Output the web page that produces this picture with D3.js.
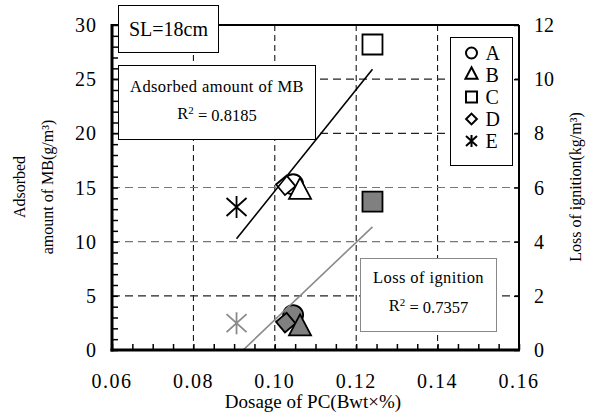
<!DOCTYPE html>
<html>
<head>
<meta charset="utf-8">
<script src="https://cdn.jsdelivr.net/npm/d3@7"></script>
<style>
  html, body { margin: 0; padding: 0; background: #fff; }
  svg { display: block; }
  text { font-family: "Liberation Serif", "Times New Roman", serif; fill: #000; }
</style>
</head>
<body>
<svg id="chart" width="592" height="414"></svg>
<script>
// datos
const groups = ['A', 'B', 'C', 'D', 'E'];
const dosage = [0.1045, 0.1062, 0.1240, 0.1027, 0.0906];       // PC (Bwt×%)
const adsorbedMB = [15.3, 14.6, 28.2, 15.2, 13.2];             // g/m³, eje izq
const lossIgnition = [1.29, 0.80, 5.48, 1.01, 0.99];           // kg/m³, eje der
const xTicks = [0.06, 0.08, 0.10, 0.12, 0.14, 0.16];
const yLeftTicks = [0, 5, 10, 15, 20, 25, 30];
const yRightTicks = [0, 2, 4, 6, 8, 10, 12];
const r2Adsorbed = '0.8185';
const r2Loss = '0.7357';

const svg = d3.select('#chart');
const M = { l: 112, r: 519, t: 25, b: 350 };
const x = d3.scaleLinear().domain([0.06, 0.16]).range([M.l, M.r]);
const yL = d3.scaleLinear().domain([0, 30]).range([M.b, M.t]);
const yR = d3.scaleLinear().domain([0, 12]).range([M.b, M.t]);

// grilla
const grid = svg.append('g');
grid.selectAll('line.v').data(xTicks.slice(1, -1)).join('line')
  .attr('x1', d => x(d)).attr('x2', d => x(d)).attr('y1', M.t).attr('y2', M.b)
  .attr('stroke', '#000').attr('stroke-width', 1).attr('stroke-dasharray', '6,4');
const hCol = { 5: '#222', 10: '#777', 15: '#777', 20: '#222', 25: '#222' };
grid.selectAll('line.h').data(yLeftTicks.slice(1, -1)).join('line')
  .attr('x1', M.l).attr('x2', M.r).attr('y1', d => yL(d)).attr('y2', d => yL(d))
  .attr('stroke', d => hCol[d]).attr('stroke-width', 1.2).attr('stroke-dasharray', '8,5');

// cajas de texto (fondo blanco, tapan la grilla)
function box(x0, y0, w, h, stroke) {
  svg.append('rect').attr('x', x0).attr('y', y0).attr('width', w).attr('height', h)
    .attr('fill', '#fff').attr('stroke', stroke).attr('stroke-width', 1);
}

// regresión lineal
function fit(xs, ys) {
  const mx = d3.mean(xs), my = d3.mean(ys);
  const sxy = d3.sum(xs, (v, i) => (v - mx) * (ys[i] - my));
  const sxx = d3.sum(xs, v => (v - mx) ** 2);
  const b = sxy / sxx;
  return v => my + b * (v - mx);
}
const [xMin, xMax] = d3.extent(dosage);

svg.append('clipPath').attr('id', 'clip').append('rect')
  .attr('x', M.l).attr('y', M.t).attr('width', M.r - M.l).attr('height', M.b - M.t);

// marcadores
function symPath(k, s) {
  if (k === 'A') return d3.symbol(d3.symbolCircle, Math.PI * s * s)();
  if (k === 'B') { const h = s * 2.1, w = s * 1.1; return `M0,${-h * 2 / 3}L${w},${h / 3}L${-w},${h / 3}Z`; }
  if (k === 'C') return `M${-s},${-s}H${s}V${s}H${-s}Z`;
  if (k === 'D') { const d = s * 0.98; return `M0,${-d}L${d},0L0,${d}L${-d},0Z`; }
  return `M0,${-s * 1.1}V${s * 1.1}M${-s},${-s * 0.9}L${s},${s * 0.9}M${-s},${s * 0.9}L${s},${-s * 0.9}`;
}
const order = [0, 3, 1, 2, 4];  // A, D, B, C, E

function drawSeries(vals, yScale, fill, stroke) {
  const g = svg.append('g');
  g.selectAll('path').data(order).join('path')
    .attr('transform', i => `translate(${x(dosage[i])},${yScale(vals[i])})`
      + (groups[i] === 'D' ? ' rotate(5)' : ''))
    .attr('d', i => symPath(groups[i], 10))
    .attr('fill', i => groups[i] === 'E' ? 'none' : fill)
    .attr('stroke', i => groups[i] === 'E' ? stroke : '#000')
    .attr('stroke-width', i => groups[i] === 'E' ? 1.8 : 1.8)
    .attr('stroke-linejoin', 'miter');
}
drawSeries(lossIgnition, yR, '#808080', '#8a8a8a');
drawSeries(adsorbedMB, yL, '#fff', '#000');

// líneas de tendencia
const fA = fit(dosage, adsorbedMB), fL = fit(dosage, lossIgnition);
svg.append('line').attr('clip-path', 'url(#clip)')
  .attr('x1', x(xMin)).attr('y1', yL(fA(xMin))).attr('x2', x(xMax)).attr('y2', yL(fA(xMax)))
  .attr('stroke', '#000').attr('stroke-width', 1.6);
svg.append('line').attr('clip-path', 'url(#clip)')
  .attr('x1', x(xMin)).attr('y1', yR(fL(xMin))).attr('x2', x(xMax)).attr('y2', yR(fL(xMax)))
  .attr('stroke', '#8a8a8a').attr('stroke-width', 1.6);

// marco y ejes
svg.append('line').attr('x1', M.l).attr('x2', M.r).attr('y1', M.t).attr('y2', M.t)
  .attr('stroke', '#000').attr('stroke-width', 2);
svg.append('line').attr('x1', M.r).attr('x2', M.r).attr('y1', M.t).attr('y2', M.b)
  .attr('stroke', '#000').attr('stroke-width', 2);

const axL = svg.append('g').attr('transform', `translate(${M.l},0)`)
  .call(d3.axisRight(yL).tickValues(d3.range(0, 31, 1)).tickSize(6).tickFormat(''));
const axB = svg.append('g').attr('transform', `translate(0,${M.b})`)
  .call(d3.axisTop(x).tickValues(d3.range(0, 21).map(i => 0.06 + i * 0.005)).tickSize(6).tickFormat(''));
const axR = svg.append('g').attr('transform', `translate(${M.r},0)`)
  .call(d3.axisLeft(yR).tickValues(yRightTicks).tickSize(5).tickFormat(''));
[axL, axB, axR].forEach(a => { a.select('.domain').remove(); a.selectAll('line').attr('stroke', '#000').attr('stroke-width', 1.5); });
svg.append('line').attr('x1', M.l).attr('x2', M.l).attr('y1', M.t - 1).attr('y2', M.b + 1.5)
  .attr('stroke', '#000').attr('stroke-width', 3);
svg.append('line').attr('x1', M.l - 1.5).attr('x2', M.r + 1).attr('y1', M.b).attr('y2', M.b)
  .attr('stroke', '#000').attr('stroke-width', 3);

// etiquetas de ejes
svg.append('g').selectAll('text').data(yLeftTicks).join('text')
  .attr('x', 97).attr('y', d => yL(d)).attr('dy', '0.35em').attr('text-anchor', 'end')
  .style('font-size', '20px').style('letter-spacing', '1px').text(d => d);
svg.append('g').selectAll('text').data(yRightTicks).join('text')
  .attr('x', 534).attr('y', d => yR(d)).attr('dy', '0.35em').attr('text-anchor', 'start')
  .style('font-size', '20px').text(d => d);
svg.append('g').selectAll('text').data(xTicks).join('text')
  .attr('x', d => x(d)).attr('y', 388).attr('text-anchor', 'middle')
  .style('font-size', '20px').style('letter-spacing', '1.5px').text(d => d.toFixed(2));
svg.append('text').attr('x', 313).attr('y', 408).attr('text-anchor', 'middle')
  .style('font-size', '19px').text('Dosage of PC(Bwt×%)');

const yt = svg.append('text').attr('transform', 'translate(19,187) rotate(-90)')
  .attr('text-anchor', 'middle').style('font-size', '16px');
yt.append('tspan').attr('x', 0).attr('dy', '0.35em').text('Adsorbed');
yt.append('tspan').attr('x', 0).attr('dy', '1.8em').text('amount of MB(g/m³)');
svg.append('text').attr('transform', 'translate(575,187) rotate(-90)')
  .attr('text-anchor', 'middle').attr('dy', '0.35em').style('font-size', '16px')
  .text('Loss of ignition(kg/m³)');

// cajas
box(118.5, 5.5, 100, 47, '#000');
svg.append('text').attr('x', 168.5).attr('y', 29).attr('dy', '0.35em').attr('text-anchor', 'middle')
  .style('font-size', '20px').text('SL=18cm');

box(118.5, 65.5, 197, 74, '#000');
svg.append('text').attr('x', 217).attr('y', 86).attr('dy', '0.35em').attr('text-anchor', 'middle')
  .style('font-size', '16.5px').style('letter-spacing', '0.4px').text('Adsorbed amount of MB');
const r1 = svg.append('text').attr('x', 217).attr('y', 113).attr('dy', '0.35em').attr('text-anchor', 'middle')
  .style('font-size', '16.5px');
r1.append('tspan').text('R');
r1.append('tspan').attr('dy', '-0.4em').style('font-size', '11px').text('2');
r1.append('tspan').attr('dy', '0.4em').text(' = ' + r2Adsorbed);

box(360.5, 258.5, 136, 73, '#888');
svg.append('text').attr('x', 428.5).attr('y', 277).attr('dy', '0.35em').attr('text-anchor', 'middle')
  .style('font-size', '16.5px').style('letter-spacing', '0.4px').text('Loss of ignition');
const r2 = svg.append('text').attr('x', 428.5).attr('y', 305).attr('dy', '0.35em').attr('text-anchor', 'middle')
  .style('font-size', '16.5px');
r2.append('tspan').text('R');
r2.append('tspan').attr('dy', '-0.4em').style('font-size', '11px').text('2');
r2.append('tspan').attr('dy', '0.4em').text(' = ' + r2Loss);

// leyenda
box(450.5, 37.5, 62, 128, '#000');
const lg = svg.append('g').selectAll('g').data(groups).join('g')
  .attr('transform', (d, i) => `translate(471.5,${53 + i * 22})`);
lg.append('path').attr('d', d => symPath(d, 5.5))
  .attr('fill', 'none').attr('stroke', '#000').attr('stroke-width', 2);
lg.append('text').attr('x', 14).attr('dy', '0.35em').style('font-size', '20px').text(d => d);
</script>
</body>
</html>
